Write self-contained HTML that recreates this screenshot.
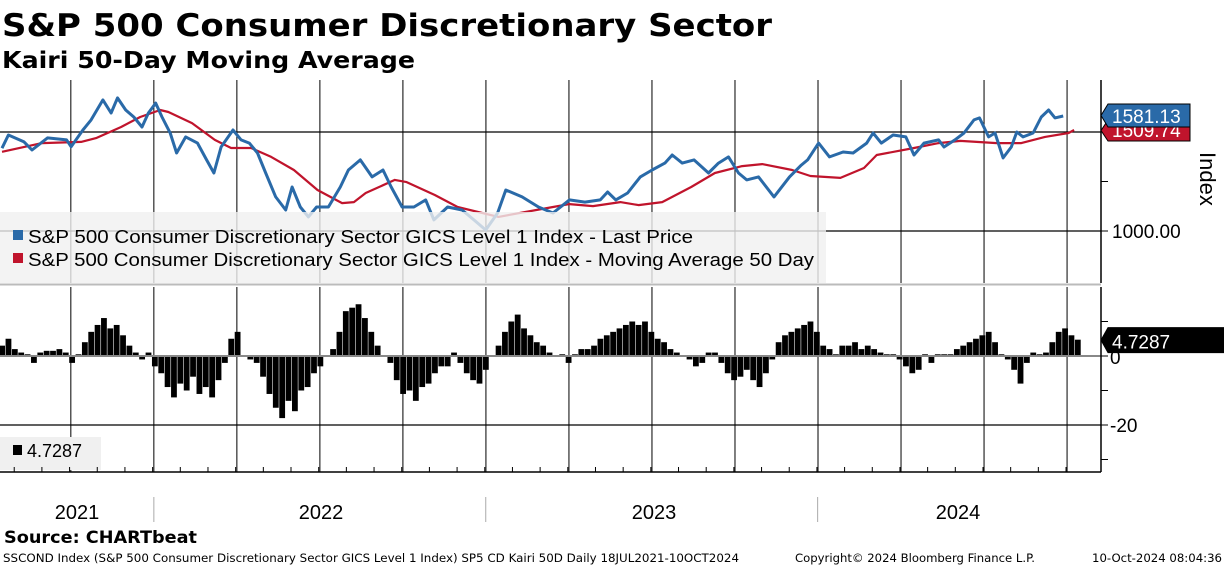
<!DOCTYPE html>
<html><head><meta charset="utf-8"><style>
html,body{margin:0;padding:0;background:#fff;}
svg{display:block;font-family:"DejaVu Sans","Liberation Sans",sans-serif;}
</style></head><body>
<svg id="chart" width="1224" height="566" viewBox="0 0 1224 566" xmlns="http://www.w3.org/2000/svg">
<text x="2" y="36" font-size="31" font-weight="bold" textLength="770" lengthAdjust="spacingAndGlyphs">S&amp;P 500 Consumer Discretionary Sector</text>
<text x="2" y="68" font-size="23" font-weight="bold" textLength="413" lengthAdjust="spacingAndGlyphs">Kairi 50-Day Moving Average</text>
<g id="grid"></g>
<g id="topPanel"></g>
<g id="botPanel"></g>
<rect x="0" y="212" width="826" height="71" fill="#f0f0f0" fill-opacity="0.8"/>
<rect x="13" y="230" width="10" height="10" fill="#2a6aa8"/>
<text x="28" y="243" font-size="18" font-family="Liberation Sans, sans-serif" textLength="665" lengthAdjust="spacingAndGlyphs">S&amp;P 500 Consumer Discretionary Sector GICS Level 1 Index - Last Price</text>
<rect x="13" y="253" width="10" height="10" fill="#c0142c"/>
<text x="28" y="266" font-size="18" font-family="Liberation Sans, sans-serif" textLength="786" lengthAdjust="spacingAndGlyphs">S&amp;P 500 Consumer Discretionary Sector GICS Level 1 Index - Moving Average 50 Day</text>
<rect x="0" y="437" width="101" height="33" fill="#f0f0f0"/>
<rect x="13" y="445" width="9" height="10" fill="#000"/>
<text x="27" y="457" font-size="18" font-family="Liberation Sans, sans-serif">4.7287</text>
<g id="axes"></g>
<text x="4" y="543" font-size="17" font-weight="bold" textLength="193" lengthAdjust="spacingAndGlyphs">Source: CHARTbeat</text>
<text x="3" y="562" font-size="11.5" textLength="736" lengthAdjust="spacingAndGlyphs">SSCOND Index (S&amp;P 500 Consumer Discretionary Sector GICS Level 1 Index) SP5 CD Kairi 50D  Daily 18JUL2021-10OCT2024</text>
<text x="795" y="562" font-size="11.5" textLength="240" lengthAdjust="spacingAndGlyphs">Copyright© 2024 Bloomberg Finance L.P.</text>
<text x="1092" y="562" font-size="11.5" textLength="130" lengthAdjust="spacingAndGlyphs">10-Oct-2024 08:04:36</text>
</svg>
<script>
// days since 2021-07-18
const priceDays=[0,7,24,33,50,71,76,89,98,111,120,127,136,145,154,161,169,176,185,192,202,215,225,233,241,254,263,272,281,290,301,312,319,328,337,346,359,372,381,394,407,419,428,440,453,466,475,490,506,519,532,545,554,572,590,606,624,641,658,666,675,688,702,715,729,737,748,761,777,788,799,810,819,832,849,866,879,886,898,910,925,936,951,958,967,980,994,1003,1014,1030,1036,1048,1058,1069,1075,1085,1092,1101,1110,1116,1123,1134,1143,1151,1158,1167,1179];
const priceVals=[1418,1485,1451,1409,1470,1460,1426,1510,1561,1662,1596,1672,1611,1576,1525,1596,1646,1576,1495,1394,1475,1444,1359,1293,1424,1510,1460,1444,1394,1293,1172,1106,1222,1121,1071,1121,1121,1222,1308,1359,1273,1308,1222,1121,1121,1157,1056,1121,1106,1056,1005,1091,1207,1172,1121,1091,1157,1146,1157,1197,1157,1192,1273,1308,1343,1384,1343,1359,1293,1343,1374,1293,1258,1273,1172,1273,1333,1359,1444,1374,1399,1394,1444,1495,1444,1485,1475,1384,1444,1460,1424,1460,1495,1561,1571,1475,1495,1369,1424,1500,1475,1495,1576,1611,1571,1581];
const maDays=[0,44,87,104,131,152,174,183,209,234,252,274,296,321,347,374,387,400,432,445,476,501,546,606,624,650,680,700,726,758,784,814,836,869,889,922,948,962,1003,1030,1054,1094,1121,1147,1173,1179];
const maVals=[1400,1444,1450,1470,1525,1576,1611,1601,1545,1460,1419,1419,1374,1308,1207,1141,1146,1192,1258,1247,1182,1121,1071,1121,1136,1126,1146,1131,1146,1222,1293,1328,1338,1308,1278,1268,1318,1384,1419,1444,1455,1444,1444,1475,1495,1510];
const kairiVals=[3,5,2,1,0.5,-2,1,1.5,1.5,2,1,-2,0.5,4,7,9,11,8,9,6,3,1,-1,1,-3,-5,-9,-12,-8,-10,-6,-11,-9,-12,-7,-2,5,7,0,-1,-2,-6,-11,-15,-18,-13,-16,-10,-9,-5,-3,0,2,7,13,14,15,11,7,3,0,-2,-7,-11,-10,-13,-9,-8,-5,-3,-3,1,-2,-5,-7,-8,-4,0,3,7,10,12,8,6,4,3,1,0,0.5,-2,0.5,2,2,3,5,6,7,8,9,10,9,10,7,5,4,2,1,0,-1,-3,-2,1,1,-2,-5,-7,-6,-4,-7,-9,-5,-1,4,6,7,8,9,10,7,3,2,0.5,3,3,4,2,3,2,1,0.5,0.5,-1,-3,-5,-4,0.5,-2,0.5,0.5,0.5,2,3,4,5,6,7,4,0.5,-1,-4,-8,-2,1,0.5,1,4,7,8,6,4.73];
const priceTicks=[1000,1250,1500];
const kairiTicks=[10,0,-10,-20,-30];
const yearLabels=["2021","2022","2023","2024"];

const NS="http://www.w3.org/2000/svg";
const xOf=d=>2+d*0.9093;
const yP=v=>231-(v-1000)*0.198;
const yK=v=>356-v*3.45;
function mk(tag,attrs,parent,txt){const e=document.createElementNS(NS,tag);for(const k in attrs)e.setAttribute(k,attrs[k]);if(txt!==undefined)e.textContent=txt;parent.appendChild(e);return e;}
const gridG=document.getElementById('grid'),topG=document.getElementById('topPanel'),botG=document.getElementById('botPanel'),axesG=document.getElementById('axes');
for(let q=0;q<13;q++){const x=xOf(75.7+q*91.3);
 let l=mk('line',{x1:x,x2:x,y1:80,y2:283,stroke:'#000','stroke-width':1},gridG);
 
 
 l=mk('line',{x1:x,x2:x,y1:287,y2:472,stroke:'#000','stroke-width':1},gridG);
 
 }
[1500,1000].forEach(v=>{const l=mk('line',{x1:0,x2:1101,y1:yP(v),y2:yP(v),stroke:'#000','stroke-width':1.2},gridG);
 
 });
let zl=mk('line',{x1:0,x2:1101,y1:yK(-20),y2:yK(-20),stroke:'#000','stroke-width':1.2},gridG);


kairiVals.forEach((v,i)=>{const x=xOf(i*7);const y0=yK(0),y1=yK(v);
 const b=mk('rect',{x:x-2.8,y:Math.min(y0,y1),width:5.8,height:Math.abs(y1-y0),fill:'#000'},botG);
 
 });
zl=mk('line',{x1:0,x2:1101,y1:yK(0),y2:yK(0),stroke:'#888','stroke-width':2},botG);


function path(days,vals){return days.map((d,i)=>(i?'L':'M')+xOf(d).toFixed(1)+' '+yP(vals[i]).toFixed(1)).join(' ');}
let p=mk('path',{d:path(maDays,maVals),fill:'none',stroke:'#c0142c','stroke-width':2.2,'stroke-linejoin':'round'},topG);


p=mk('path',{d:path(priceDays,priceVals),fill:'none',stroke:'#2a6aa8','stroke-width':3,'stroke-linejoin':'round'},topG);


let a=mk('line',{x1:1101,x2:1101,y1:80,y2:283,stroke:'#000','stroke-width':1.5},axesG);


a=mk('line',{x1:1101,x2:1101,y1:287,y2:472,stroke:'#000','stroke-width':1.5},axesG);


a=mk('line',{x1:0,x2:1101,y1:284.5,y2:284.5,stroke:'#bbb','stroke-width':2},axesG);


a=mk('line',{x1:0,x2:1101,y1:472,y2:472,stroke:'#000','stroke-width':1.5},axesG);


priceTicks.forEach(v=>{const t=mk('line',{x1:1101,x2:1108,y1:yP(v),y2:yP(v),stroke:'#000'},axesG);
 
 });
kairiTicks.forEach(v=>{const t=mk('line',{x1:1101,x2:1108,y1:yK(v),y2:yK(v),stroke:'#000'},axesG);
 
 });
let t=mk('text',{x:1112,y:yP(1000)+7,'font-size':19,'font-family':'Liberation Sans, sans-serif'},axesG,'1000.00');


t=mk('text',{x:1110,y:yK(0)+8,'font-size':19,'font-family':'Liberation Sans, sans-serif'},axesG,'0');


t=mk('text',{x:1110,y:yK(-20)+7,'font-size':19,'font-family':'Liberation Sans, sans-serif'},axesG,'-20');


t=mk('text',{x:1200,y:152,'font-size':22,'font-family':'Liberation Sans, sans-serif',transform:'rotate(90 1200 152)'},axesG,'Index');


for(let m=0;m<40;m++){const d=-17+m*30.44;if(d<0||d>1180)continue;const x=xOf(d);
 const mt=mk('line',{x1:x,x2:x,y1:467,y2:472,stroke:'#000'},axesG);
 
 }
[167,532,897].forEach(d=>{const s=mk('line',{x1:xOf(d),x2:xOf(d),y1:497,y2:522,stroke:'#aaa'},axesG);
 
 });
const yearX=[77,321,654,958];
yearLabels.forEach((y,i)=>{const tx=mk('text',{x:yearX[i],y:519,'font-size':20,'text-anchor':'middle','font-family':'Liberation Sans, sans-serif'},axesG,y);
 
 });
function tag(y,h,fill,txt,name,w){const g=mk('g',{},axesG);
 
 
 mk('path',{d:`M1101 ${y+h/2} L1108 ${y} L${1101+w} ${y} L${1101+w} ${y+h} L1108 ${y+h} Z`,fill:fill,stroke:'#000','stroke-width':1},g);
 mk('text',{x:1112,y:y+h-4,'font-size':19,fill:'#fff','font-family':'Liberation Sans, sans-serif'},g,txt);}
tag(yP(maVals[maVals.length-1])-10,21,'#c0142c','1509.74','ma-value-tag',89);
tag(yP(priceVals[priceVals.length-1])-12,23,'#2a6aa8','1581.13','price-value-tag',89);
tag(yK(kairiVals[kairiVals.length-1])-12,25,'#000','4.7287','kairi-value-tag',123);
</script>
</body></html>
